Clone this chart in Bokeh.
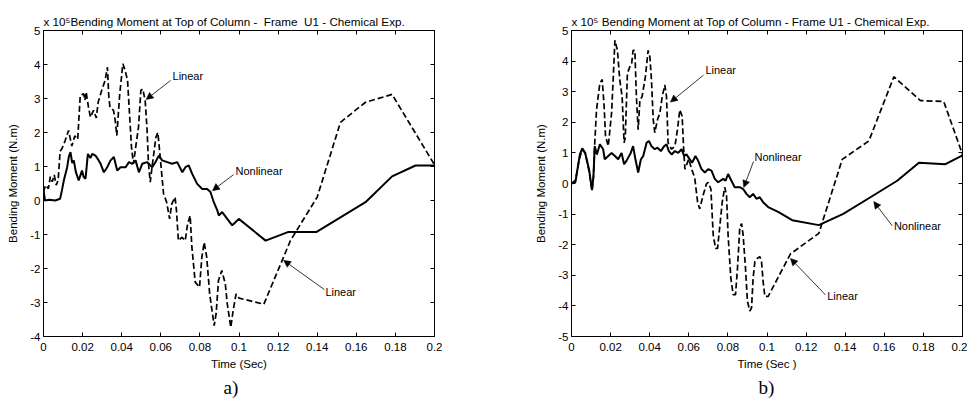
from bokeh.plotting import figure
from bokeh.models import Range1d, LinearAxis, FixedTicker, Label, Arrow, NormalHead, Title
from bokeh.layouts import row
from bokeh.embed import file_html
from bokeh.resources import INLINE

# ---------------- data ----------------
x_ticks = [0.0, 0.02, 0.04, 0.06, 0.08, 0.1, 0.12, 0.14, 0.16, 0.18, 0.2]
x_tick_labels = ["0", "0.02", "0.04", "0.06", "0.08", "0.1", "0.12", "0.14", "0.16", "0.18", "0.2"]
a_y_ticks = [-4, -3, -2, -1, 0, 1, 2, 3, 4, 5]
b_y_ticks = [-5, -4, -3, -2, -1, 0, 1, 2, 3, 4, 5]

# panel a) Linear (dashed)
a_lin_t = [0.0, 0.001, 0.0025, 0.0035, 0.0045, 0.0055, 0.0065, 0.0075, 0.0085, 0.0094, 0.011, 0.0128,
           0.0145, 0.016, 0.0175, 0.0188, 0.0205, 0.0212, 0.0218, 0.023, 0.024, 0.0256, 0.027, 0.028,
           0.0298, 0.0315, 0.0327, 0.0334, 0.034, 0.0358, 0.0367, 0.0375, 0.039, 0.0406, 0.0418, 0.043,
           0.044, 0.045, 0.046, 0.0474, 0.0486, 0.0498, 0.0508, 0.052, 0.053, 0.0537, 0.0546, 0.056,
           0.0575, 0.0585, 0.0597, 0.0614, 0.063, 0.0645, 0.0656, 0.0673, 0.068, 0.069, 0.0708, 0.0725,
           0.0737, 0.075, 0.0759, 0.0776, 0.0798, 0.081, 0.0822, 0.0835, 0.085, 0.0873, 0.0883, 0.0895,
           0.0912, 0.093, 0.094, 0.0958, 0.097, 0.0985, 0.1, 0.1127, 0.1221, 0.1263, 0.14, 0.1519,
           0.1647, 0.1783, 0.2]
a_lin_v = [0.25, 0.45, 0.35, 0.7, 0.55, 0.75, 0.45, 0.6, 1.45, 1.52, 1.75, 2.06,
           1.6, 1.9, 1.8, 3.09, 3.14, 2.95, 3.19, 2.75, 2.45, 2.65, 2.43, 2.9,
           3.24, 3.53, 3.92, 3.05, 2.75, 2.65, 2.35, 1.91, 3.14, 4.02, 3.82, 3.53,
           2.55, 1.57, 1.08, 1.67, 2.16, 3.24, 3.28, 2.94, 2.06, 1.08, 0.54, 1.2,
           1.86, 2.0, 1.27, 0.2, -0.05, -0.54, -0.1, 0.1, -0.29, -1.18, -1.08, -1.18,
           -0.69, -0.44, -1.37, -2.4, -2.55, -1.67, -1.23, -1.67, -2.75, -3.68, -3.33, -2.35,
           -2.06, -2.45, -3.04, -3.73, -3.24, -2.75, -2.87, -3.05, -1.76, -1.18, 0.1, 2.3,
           2.89, 3.12, 1.05]

# panel a) Nonlinear (solid)
a_nl_t = [0.0, 0.0008, 0.003, 0.006, 0.0085, 0.0094, 0.0104, 0.0121, 0.013, 0.0138, 0.0147, 0.0155,
          0.0165, 0.018, 0.0197, 0.0205, 0.0215, 0.0227, 0.024, 0.0249, 0.0266, 0.028, 0.0292, 0.0309,
          0.0326, 0.0343, 0.036, 0.0377, 0.0394, 0.042, 0.0437, 0.0454, 0.0471, 0.0488, 0.0505, 0.053,
          0.0556, 0.0573, 0.059, 0.0607, 0.0633, 0.0658, 0.0684, 0.071, 0.0726, 0.0743, 0.076, 0.0786,
          0.0812, 0.0837, 0.0854, 0.0871, 0.0889, 0.0897, 0.0914, 0.094, 0.0965, 0.0982, 0.0999, 0.1136,
          0.125, 0.1395, 0.1647, 0.1783, 0.1903, 0.2]
a_nl_v = [0.3, 0.0, 0.02, 0.0, 0.05, 0.29, 0.59, 0.98, 1.3, 1.42, 1.1, 1.18,
          0.85, 0.59, 0.88, 0.7, 0.64, 1.37, 1.25, 1.37, 1.32, 1.2, 1.08, 0.83,
          0.98, 1.18, 1.28, 0.88, 0.98, 0.98, 1.13, 1.08, 1.18, 0.83, 1.08, 1.13,
          0.98, 1.13, 1.32, 1.18, 1.13, 1.08, 1.13, 0.83, 0.98, 1.03, 0.79, 0.49,
          0.34, 0.34, 0.25, -0.05, -0.29, -0.44, -0.34, -0.54, -0.73, -0.64, -0.54, -1.18,
          -0.93, -0.93, -0.05, 0.71, 1.03, 1.03]

# panel b) Linear (dashed)
b_lin_t = [0.0, 0.002, 0.004, 0.0055, 0.007, 0.009, 0.0105, 0.0113, 0.0119, 0.0128, 0.0145, 0.0157,
           0.0167, 0.0174, 0.0188, 0.0205, 0.0213, 0.0222, 0.0235, 0.0247, 0.0259, 0.0269, 0.0275, 0.0286,
           0.0298, 0.0307, 0.0315, 0.0324, 0.0332, 0.0341, 0.035, 0.0361, 0.0378, 0.0392, 0.0401, 0.0409,
           0.0418, 0.0426, 0.044, 0.0452, 0.0464, 0.0477, 0.0486, 0.0494, 0.0512, 0.0529, 0.0542, 0.0554,
           0.0566, 0.0573, 0.058, 0.06, 0.0614, 0.063, 0.0645, 0.0656, 0.0673, 0.069, 0.0699, 0.0713,
           0.0725, 0.0737, 0.0747, 0.0759, 0.0771, 0.0784, 0.0793, 0.0801, 0.0815, 0.0827, 0.0839, 0.0849,
           0.0861, 0.087, 0.0878, 0.089, 0.09, 0.0912, 0.0921, 0.0929, 0.0938, 0.0951, 0.0963, 0.0972,
           0.098, 0.0989, 0.1006, 0.112, 0.1265, 0.1385, 0.1521, 0.1649, 0.1785, 0.1904, 0.2]
b_lin_v = [0.0, 0.1, 0.8, 1.1, 1.0, 0.4, -0.25, 0.3, 1.33, 2.41, 3.27, 3.4,
           2.52, 1.55, 1.22, 2.3, 3.38, 4.68, 4.35, 3.38, 2.84, 1.33, 1.5, 3.6,
           3.81, 3.87, 4.35, 4.35, 2.84, 1.76, 2.73, 2.84, 3.49, 4.35, 4.14, 3.38,
           2.09, 1.66, 2.09, 2.3, 2.84, 3.22, 2.84, 1.33, 1.12, 1.22, 1.76, 2.41,
           2.2, 1.22, 0.47, 0.8, 0.47, 0.2, -0.61, -0.83, -0.39, -0.02, 0.04, -0.18,
           -1.69, -2.12, -2.12, -1.37, -0.61, -0.12, -0.39, -1.69, -3.09, -3.63, -3.63, -2.77,
           -1.42, -1.31, -1.69, -2.77, -3.85, -4.17, -4.06, -3.09, -2.55, -2.44, -2.39, -2.55,
           -3.2, -3.69, -3.69, -2.3, -1.63, 0.79, 1.39, 3.49, 2.71, 2.68, 0.95]

# panel b) Nonlinear (solid)
b_nl_t = [0.0, 0.002, 0.0043, 0.0055, 0.007, 0.009, 0.0105, 0.0112, 0.0119, 0.013, 0.0145, 0.0162,
          0.017, 0.0188, 0.0205, 0.0222, 0.0239, 0.0256, 0.0269, 0.0281, 0.0303, 0.0315, 0.0327, 0.0341,
          0.0355, 0.0367, 0.0384, 0.0396, 0.0409, 0.0426, 0.044, 0.0457, 0.0474, 0.0486, 0.0498, 0.0512,
          0.0529, 0.0546, 0.0563, 0.0576, 0.0588, 0.0605, 0.0617, 0.0634, 0.0648, 0.0665, 0.0682, 0.0699,
          0.0716, 0.0733, 0.075, 0.0776, 0.0788, 0.0801, 0.0818, 0.0835, 0.0861, 0.0878, 0.0895, 0.0912,
          0.0929, 0.0946, 0.0963, 0.098, 0.1006, 0.1057, 0.1129, 0.1265, 0.139, 0.1529, 0.1666, 0.1777,
          0.1913, 0.2]
b_nl_v = [0.0, 0.05, 0.95, 1.15, 1.0, 0.45, -0.22, 0.2, 1.22, 0.95, 1.28, 1.12,
          0.79, 0.9, 1.0, 0.9, 0.79, 1.0, 0.63, 0.74, 1.0, 1.22, 0.79, 0.36,
          0.79, 0.9, 1.33, 1.39, 1.22, 1.12, 1.17, 1.06, 1.22, 1.28, 1.06, 0.95,
          1.06, 1.0, 1.12, 0.9, 0.95, 0.79, 0.68, 0.9, 0.74, 0.47, 0.36, 0.47,
          0.42, 0.15, 0.04, 0.15, 0.09, 0.31, 0.09, -0.12, -0.12, -0.18, -0.34, -0.45,
          -0.34, -0.5, -0.45, -0.61, -0.77, -0.93, -1.2, -1.36, -0.99, -0.45, 0.09, 0.68,
          0.63, 0.92]

TITLE_A = "x 10\u2075Bending Moment at Top of Column -\u00a0 Frame\u00a0 U1 - Chemical Exp."
TITLE_B = "x 10\u2075 Bending Moment at Top of Column - Frame U1 - Chemical Exp."
FONT = "Liberation Sans"
H = 403
TOP = 30


def make_fig(width, yr, yticks, bl, br, frame_h, xlabel, title, sub, sub_offset):
    p = figure(width=width, height=H, x_range=Range1d(0, 0.2), y_range=Range1d(*yr),
               output_backend="svg", toolbar_location=None,
               min_border_left=bl, min_border_right=br, min_border_top=TOP,
               min_border_bottom=H - TOP - frame_h)
    p.xgrid.visible = False
    p.ygrid.visible = False
    p.outline_line_color = "black"
    p.outline_line_width = 1
    p.background_fill_color = "white"
    p.border_fill_color = "white"

    p.title.text = title
    p.title.align = "left"
    p.title.offset = 0
    p.title.text_font = FONT
    p.title.text_font_size = "11.7px"
    p.title.text_font_style = "normal"
    p.title.text_color = "black"
    p.title.standoff = 5

    xa = p.xaxis[0]
    xa.ticker = FixedTicker(ticks=x_ticks)
    xa.major_label_overrides = dict(zip(x_ticks, x_tick_labels))
    xa.axis_label = xlabel
    ya = p.yaxis[0]
    ya.ticker = FixedTicker(ticks=yticks)
    ya.major_label_overrides = {t: str(t) for t in yticks}
    ya.axis_label = "Bending Moment (N.m)"
    for ax in (xa, ya):
        ax.major_tick_in = 4
        ax.major_tick_out = 0
        ax.minor_tick_line_color = None
        ax.axis_line_color = "black"
        ax.major_tick_line_color = "black"
        ax.major_label_text_font = FONT
        ax.major_label_text_font_size = "11.5px"
        ax.major_label_text_color = "black"
        ax.axis_label_text_font = FONT
        ax.axis_label_text_font_size = "11.5px"
        ax.axis_label_text_font_style = "normal"
        ax.axis_label_text_color = "black"
    xa.major_label_standoff = 6
    xa.axis_label_standoff = 4
    ya.major_label_standoff = 3
    ya.axis_label_standoff = 8

    top = LinearAxis(ticker=FixedTicker(ticks=x_ticks),
                     major_label_overrides={t: "" for t in x_ticks})
    right = LinearAxis(ticker=FixedTicker(ticks=yticks),
                       major_label_overrides={t: "" for t in yticks})
    for ax in (top, right):
        ax.major_tick_in = 4
        ax.major_tick_out = 0
        ax.minor_tick_line_color = None
        ax.major_label_standoff = 0
        ax.major_label_text_font_size = "1px"
        ax.axis_line_color = "black"
    p.add_layout(top, "above")
    p.add_layout(right, "right")

    p.add_layout(Title(text=sub, align="left", offset=sub_offset, text_font="Liberation Serif",
                       text_font_size="19px", text_font_style="normal", text_color="black",
                       standoff=4), "below")
    return p


def lbl(p, x, y, text):
    p.add_layout(Label(x=x, y=y, text=text, text_font=FONT, text_font_size="11px",
                       text_align="left", text_baseline="middle", text_color="black"))


def arr(p, x0, y0, x1, y1):
    p.add_layout(Arrow(end=NormalHead(size=7, fill_color="black", line_color="black", line_width=0.5),
                       x_start=x0, y_start=y0, x_end=x1, y_end=y1,
                       line_color="black", line_width=0.8))


# ---------- panel a ----------
pa = make_fig(478, (-4, 5), a_y_ticks, 43, 44, 306, "Time (Sec)", TITLE_A, "a)", 180)
pa.line(a_lin_t, a_lin_v, line_color="black", line_width=1.7, line_dash="6 3")
pa.line(a_nl_t, a_nl_v, line_color="black", line_width=2)
lbl(pa, 0.066, 3.65, "Linear")
arr(pa, 0.065, 3.53, 0.0525, 2.97)
lbl(pa, 0.0982, 0.88, "Nonlinear")
arr(pa, 0.0972, 0.76, 0.0864, 0.29)
lbl(pa, 0.1442, -2.68, "Linear")
arr(pa, 0.1437, -2.62, 0.1228, -1.76)

# ---------- panel b ----------
pb = make_fig(489, (-5, 5), b_y_ticks, 93, 5, 309, "Time (Sec )", TITLE_B, "b)", 187)
pb.line(b_lin_t, b_lin_v, line_color="black", line_width=1.7, line_dash="6 3")
pb.line(b_nl_t, b_nl_v, line_color="black", line_width=2)
lbl(pb, 0.0685, 3.70, "Linear")
arr(pb, 0.0675, 3.54, 0.0506, 2.66)
lbl(pb, 0.0936, 0.88, "Nonlinear")
arr(pb, 0.0931, 0.72, 0.0881, -0.13)
lbl(pb, 0.1649, -1.40, "Nonlinear")
arr(pb, 0.164, -1.38, 0.1546, -0.59)
lbl(pb, 0.1308, -3.69, "Linear")
arr(pb, 0.1299, -3.64, 0.112, -2.45)

layout = row(pa, pb)
open("out.html", "w").write(file_html(layout, INLINE))
